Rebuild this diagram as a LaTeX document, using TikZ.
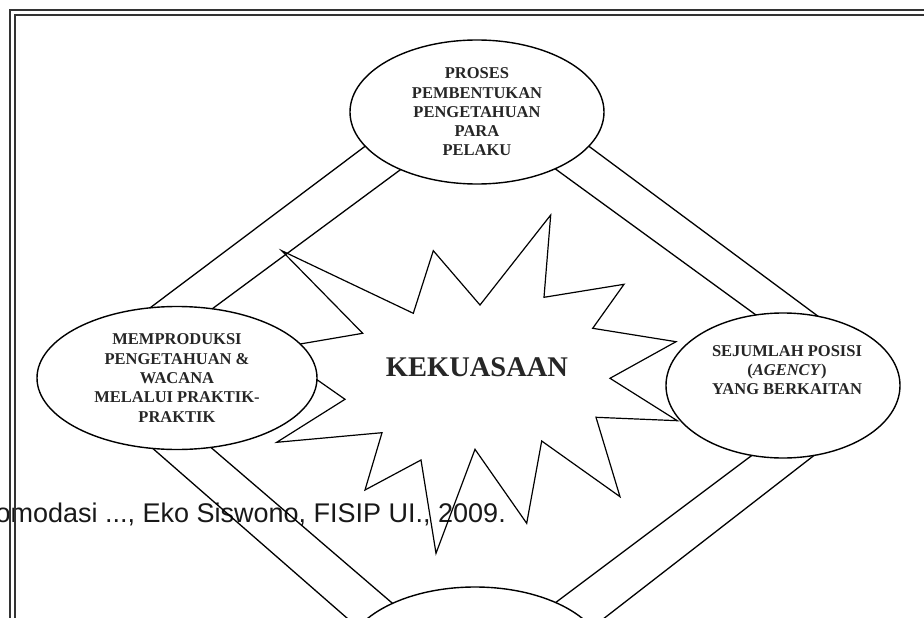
\documentclass[tikz,border=0pt]{standalone}
\usepackage{fontspec}
\setmainfont{Liberation Serif}
\newfontfamily\capfont{Liberation Sans}
\usetikzlibrary{shapes.geometric}
\begin{document}
\begin{tikzpicture}[x=1pt,y=-1pt,
  oval/.style={ellipse,draw=black,line width=1.4pt,fill=white,inner sep=0pt,outer sep=0pt},
  ovaltext/.style={font=\fontsize{16.5}{19.3}\selectfont\bfseries,text=black!85,align=center,inner sep=0pt},
  band/.style={line width=1.3pt},
  starline/.style={line width=1.2pt,line join=miter},
  frameline/.style={line width=2.4pt,draw=black!80}]
\useasboundingbox (0,0) rectangle (924,618);
\clip (0,0) rectangle (924,618);
\fill[white] (0,0) rectangle (924,618);
% caption
\node[font=\capfont\fontsize{27}{32}\selectfont,text=black!90,anchor=base east,inner sep=0pt] (source) at (506,522) {omodasi ..., Eko Siswono, FISIP UI., 2009.};
% star
\draw[starline] (281.7,250.7) -- (413.3,313.3) -- (433.3,250.7) -- (480,305) -- (550.7,215)
  -- (544,297.3) -- (624,284.3) -- (592.7,328.3) -- (676,341.7) -- (610,378.3)
  -- (677.3,420.7) -- (596,417.3) -- (620,496.7) -- (541.7,441) -- (526.7,523.3)
  -- (475,449.3) -- (436,553.3) -- (421,460) -- (365,490) -- (382,432.7)
  -- (276.7,442.3) -- (345,399.3) -- (272.7,348.7) -- (362.7,333.3) -- cycle;
\node[font=\fontsize{28.5}{34}\selectfont\bfseries,text=black!85,anchor=base,inner sep=0pt] (kuasa) at (477,376) {KEKUASAAN};
% ellipses
\node[oval,ovaltext,minimum width=254pt,minimum height=144pt] (top) at (477,112) {PROSES\\PEMBENTUKAN\\PENGETAHUAN\\PARA\\PELAKU};
\node[oval,ovaltext,minimum width=280pt,minimum height=143pt] (left) at (177,378) {MEMPRODUKSI\\PENGETAHUAN \&\\WACANA\\MELALUI PRAKTIK-\\PRAKTIK};
\node[oval,minimum width=234pt,minimum height=145pt] (right) at (783,385.5) {};
\node[ovaltext] (righttext) at (787,370) {SEJUMLAH POSISI\\(\textit{AGENCY})\\YANG BERKAITAN};
\node[oval,minimum width=260pt,minimum height=144pt] (bottom) at (475,659) {};
% bands
\draw[band] (top.197.5) -- (left.111.9);
\draw[band] (top.217.9) -- (left.63.8);
\draw[band] (top.343.7) -- (right.63.9);
\draw[band] (top.324.1) -- (right.111.4);
\draw[band] (left.251.3) -- (bottom.165.2);
\draw[band] (left.296.9) -- (bottom.146.1);
\draw[band] (right.246.9) -- (bottom.35.1);
\draw[band] (right.294.1) -- (bottom.15.9);
% frame
\draw[frameline] (10.2,618) -- (10.2,10.2) -- (924,10.2);
\draw[frameline] (14.8,618) -- (14.8,14.8) -- (924,14.8);
\end{tikzpicture}
\end{document}
